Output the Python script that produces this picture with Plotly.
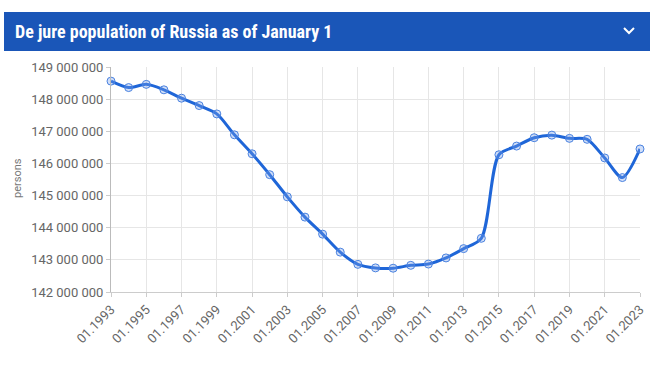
import plotly.graph_objects as go

years = list(range(1993, 2024))
population = [148.56, 148.36, 148.46, 148.29, 148.03, 147.80, 147.54, 146.89, 146.30, 145.65,
              144.96, 144.33, 143.80, 143.24, 142.86, 142.75, 142.74, 142.83, 142.87, 143.06,
              143.35, 143.67, 146.27, 146.54, 146.80, 146.88, 146.78, 146.75, 146.17, 145.56,
              146.45]
population = [round(v * 1e6) for v in population]
tick_years = list(range(1993, 2024, 2))
tick_labels = [f"01.{y}" for y in tick_years]
y_ticks = list(range(142_000_000, 149_000_001, 1_000_000))
title_text = "De jure population of Russia as of January 1"

W, H = 660, 366
L, R, T, B = 111, 20, 67, 74
PW, PH = W - L - R, H - T - B

def px(x):
    return (x - L) / PW

def py(y):
    return (H - B - y) / PH

line_color = "#1f66d8"

fig = go.Figure()
fig.add_trace(go.Scatter(
    x=years, y=population, mode="lines+markers", cliponaxis=False,
    line=dict(color=line_color, width=3, shape="spline", smoothing=0.8),
    marker=dict(symbol="circle", size=8, color="rgba(120,160,235,0.35)",
                line=dict(color="#4a82e0", width=1)),
    showlegend=False,
))

fig.update_layout(
    width=W, height=H,
    margin=dict(l=L, r=R, t=T, b=B),
    paper_bgcolor="white", plot_bgcolor="white",
    separators=". ",
    font=dict(family="Roboto, Arial, sans-serif", color="#666666", size=13),
    xaxis=dict(range=[1993, 2023], tickvals=tick_years, ticktext=tick_labels,
               tickangle=-45, showgrid=True, gridcolor="#e6e6e6", gridwidth=1,
               showline=True, linecolor="#cccccc", ticks="outside", ticklen=4,
               tickcolor="#cccccc", zeroline=False, tickfont=dict(size=13, color="#666666")),
    yaxis=dict(range=[142_000_000, 149_000_000], tickvals=y_ticks, tickformat=",d",
               showgrid=True, gridcolor="#e6e6e6", showline=True, linecolor="#bbbbbb",
               ticks="outside", ticklen=4, tickcolor="#cccccc", zeroline=False,
               tickfont=dict(size=13, color="#666666")),
)

# header bar
fig.add_shape(type="rect", xref="paper", yref="paper",
              x0=px(4), x1=px(650), y0=py(51), y1=py(12),
              fillcolor="#1a56b8", line=dict(width=0), layer="above")
fig.add_annotation(xref="paper", yref="paper", x=px(13), y=py(31),
                   xanchor="left", yanchor="middle", showarrow=False,
                   text=f"<b>{title_text}</b>",
                   font=dict(family="Roboto Condensed, Roboto, sans-serif", size=18, color="white"))
# chevron
fig.add_shape(type="path", xref="paper", yref="paper",
              path=f"M {px(624)} {py(28)} L {px(629)} {py(33)} L {px(634)} {py(28)}",
              line=dict(color="white", width=2))
# y title
fig.add_annotation(xref="paper", yref="paper", x=px(17), y=py(178),
                   xanchor="center", yanchor="middle", showarrow=False,
                   text="persons", textangle=-90,
                   font=dict(size=11, color="#777777"))

fig.write_html("out.html", config={"displayModeBar": False},
               post_script="document.body.style.margin='0';")
